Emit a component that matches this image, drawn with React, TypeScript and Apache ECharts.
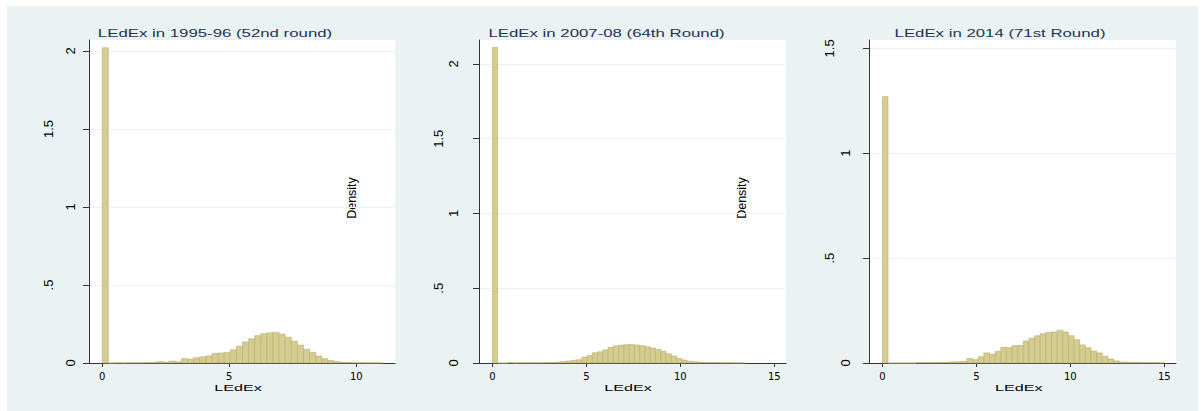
import React, { useEffect, useRef } from 'react';
import * as echarts from 'echarts';

// ---------- data ----------
const panelTitles = ['LEdEx in 1995-96 (52nd round)', 'LEdEx in 2007-08 (64th Round)', 'LEdEx in 2014 (71st Round)'];
const xAxisName = 'LEdEx';
const yAxisName = 'Density';

const binWidth52 = 0.24;
const density52 = [2.02, 0, 0.002, 0.001, 0.002, 0.002, 0.002, 0.003, 0.004, 0.009, 0.006, 0.012, 0.008, 0.028, 0.024, 0.034, 0.04, 0.046, 0.062, 0.064, 0.068, 0.085, 0.108, 0.135, 0.155, 0.175, 0.188, 0.193, 0.196, 0.185, 0.165, 0.14, 0.115, 0.088, 0.068, 0.045, 0.028, 0.016, 0.009, 0.005, 0.003, 0.002, 0.002, 0.001, 0.001, 0.001];

const binWidth64 = 0.28;
const density64 = [2.11, 0, 0, 0.003, 0.001, 0.002, 0.002, 0.002, 0.002, 0.002, 0.004, 0.004, 0.006, 0.009, 0.013, 0.018, 0.022, 0.04, 0.05, 0.068, 0.075, 0.088, 0.105, 0.115, 0.12, 0.122, 0.123, 0.12, 0.116, 0.108, 0.1, 0.092, 0.078, 0.062, 0.046, 0.03, 0.02, 0.012, 0.008, 0.006, 0.004, 0.003, 0.003, 0.002, 0.002, 0.002, 0.001, 0.001];

const binWidth71 = 0.3;
const density71 = [1.27, 0, 0, 0, 0, 0, 0.002, 0.002, 0.002, 0.003, 0.003, 0.003, 0.005, 0.006, 0.008, 0.022, 0.016, 0.03, 0.048, 0.042, 0.055, 0.075, 0.073, 0.083, 0.084, 0.105, 0.118, 0.13, 0.14, 0.146, 0.148, 0.156, 0.148, 0.13, 0.111, 0.086, 0.073, 0.057, 0.048, 0.032, 0.019, 0.01, 0.005, 0.004, 0.003, 0.003, 0.002, 0.002, 0.002, 0.001];

const xTicks = [[0, 5, 10], [0, 5, 10, 15], [0, 5, 10, 15]];
const yTicksShort = [[0, 1, 2], [0, 1, 2], [0, 1]];
const yTicksLong = [[0.5, 1.5], [0.5, 1.5], [0.5, 1.5]];

// ---------- layout / style ----------
const OX = 7, OY = 6;
const CW = 1191, CH = 405;
const gridLeft = [89, 479, 869];
const gridWidth = [306, 307, 307];
const gridTop = 40;
const gridHeight = 323;
const xMin = [-0.52, -0.71, -0.71];
const xMax = [11.52, 15.62, 15.62];
const yMax = [2.07, 2.16, 1.54];
const yMarginShort = [12, 19.5, 17];
const yMarginLong = [34.5, 34.5, 33];
const titleCx = [215, 606.5, 1000];
const xNameCx = [238, 628, 1018.7];
const densityPos = [[352, 198], [742, 198]];

const BG = '#eaf2f3';
const BAR = '#d5cc8f';
const BAR_EDGE = '#b9ae70';
const AXIS = '#333333';
const TITLE = '#1f3358';

const fmt = (v: number) => (v > 0 && v < 1 ? String(v).replace(/^0/, '') : String(v));

export default function App() {
  const ref = useRef<HTMLDivElement>(null);
  useEffect(() => {
    if (!ref.current) return;
    const chart = echarts.init(ref.current, undefined, { renderer: 'svg' });
    const series = [
      [binWidth52, density52],
      [binWidth64, density64],
      [binWidth71, density71],
    ];
    const grids: any[] = [];
    const xAxes: any[] = [];
    const yAxes: any[] = [];
    const ser: any[] = [];
    for (let i = 0; i < 3; i++) {
      grids.push({
        left: gridLeft[i] - OX, top: gridTop - OY, width: gridWidth[i], height: gridHeight,
        show: true, backgroundColor: '#ffffff', borderWidth: 0, containLabel: false,
      });
      xAxes.push({
        type: 'value', gridIndex: i, min: xMin[i], max: xMax[i],
        axisLine: { show: true, onZero: false, lineStyle: { color: AXIS, width: 1 } },
        axisTick: { show: true, length: 4, customValues: xTicks[i], lineStyle: { color: AXIS } },
        axisLabel: { customValues: xTicks[i], fontSize: 10, fontFamily: 'DejaVu Sans', color: '#000', margin: 8, formatter: (v: number) => fmt(v) },
        splitLine: { show: false },
      });
      yAxes.push({
        type: 'value', gridIndex: i, position: 'left', min: 0, max: yMax[i], interval: 0.5,
        axisLine: { show: true, onZero: false, lineStyle: { color: AXIS, width: 1 } },
        axisTick: { show: true, length: 6, customValues: [...yTicksShort[i], ...yTicksLong[i]], lineStyle: { color: AXIS } },
        axisLabel: { customValues: yTicksShort[i], rotate: 90, fontSize: 13, fontFamily: 'Liberation Sans', color: '#000', margin: yMarginShort[i], formatter: (v: number) => fmt(v) },
        splitLine: { show: true, lineStyle: { color: BG, width: 1 } },
      });
      yAxes.push({
        type: 'value', gridIndex: i, position: 'left', min: 0, max: yMax[i], interval: 0.5,
        axisLine: { show: false },
        axisTick: { show: false },
        axisLabel: { customValues: yTicksLong[i], rotate: 90, fontSize: 13, fontFamily: 'Liberation Sans', color: '#000', margin: yMarginLong[i], formatter: (v: number) => fmt(v) },
        splitLine: { show: false },
      });
      const [w, dens] = series[i] as [number, number[]];
      const data = dens.map((d, k) => [k * w, (k + 1) * w, d]);
      ser.push({
        type: 'custom', xAxisIndex: i, yAxisIndex: 2 * i, data,
        encode: { x: [0, 1], y: 2 },
        renderItem: (params: any, api: any) => {
          const a = api.coord([api.value(0), api.value(2)]);
          const b = api.coord([api.value(1), 0]);
          return {
            type: 'rect',
            shape: { x: a[0], y: a[1], width: b[0] - a[0], height: b[1] - a[1] },
            style: { fill: BAR, stroke: BAR_EDGE, lineWidth: 0.6 },
          };
        },
      });
    }
    const graphic: any[] = [];
    for (let i = 0; i < 3; i++) {
      graphic.push({
        type: 'text', x: titleCx[i] - OX, y: 33 - OY, scaleX: 1.6,
        style: { text: panelTitles[i], fontSize: 10.5, fontFamily: 'Liberation Sans', fill: TITLE, align: 'center', verticalAlign: 'middle' },
      });
      graphic.push({
        type: 'text', x: xNameCx[i] - OX, y: 387.7 - OY, scaleX: 1.7,
        style: { text: xAxisName, fontSize: 9.5, fontFamily: 'Liberation Sans', fill: '#000', align: 'center', verticalAlign: 'middle' },
      });
    }
    densityPos.forEach(([x, y]) => {
      graphic.push({
        type: 'text', x: x - OX, y: y - OY, rotation: Math.PI / 2,
        style: { text: yAxisName, fontSize: 12.5, fontFamily: 'Liberation Sans', fill: '#000', align: 'center', verticalAlign: 'middle' },
      });
    });
    chart.setOption({
      animation: false,
      backgroundColor: BG,
      grid: grids,
      xAxis: xAxes,
      yAxis: yAxes,
      series: ser,
      graphic,
    });
    return () => chart.dispose();
  }, []);
  return (
    <div style={{ position: 'absolute', left: 0, top: 0, width: 1202, height: 411, background: '#ffffff' }}>
      <div ref={ref} style={{ position: 'absolute', left: OX, top: OY, width: CW, height: CH }} />
    </div>
  );
}
